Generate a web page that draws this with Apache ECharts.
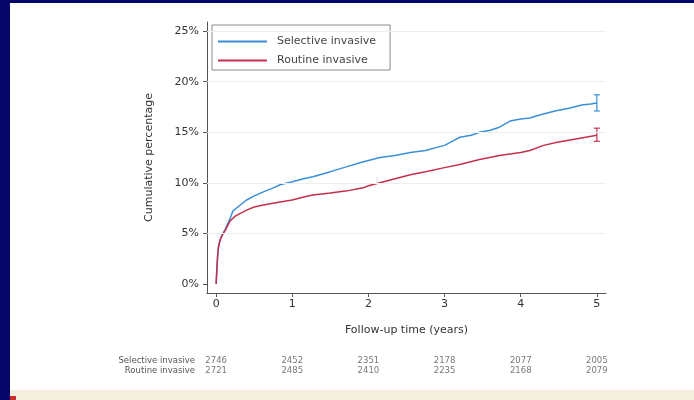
<!DOCTYPE html>
<html>
<head>
<meta charset="utf-8">
<script src="https://cdn.jsdelivr.net/npm/echarts@6/dist/echarts.min.js"></script>
<style>
  html, body { margin: 0; padding: 0; background: #06066a; }
  #chart { width: 694px; height: 400px; }
</style>
</head>
<body>
<div id="chart"></div>
<script>
// Cumulative incidence by strategy (Kaplan-Meier style curves), follow-up in years
const groupNames = ['Selective invasive', 'Routine invasive'];

const selectiveTime = [0, 0.01, 0.02, 0.03, 0.05, 0.08, 0.12, 0.18, 0.22, 0.3, 0.4, 0.5, 0.62, 0.75, 0.84, 1.0, 1.15, 1.27, 1.5, 1.72, 1.9, 2.0, 2.15, 2.35, 2.55, 2.75, 2.9, 3.0, 3.1, 3.2, 3.35, 3.46, 3.6, 3.72, 3.86, 4.0, 4.12, 4.25, 4.45, 4.65, 4.8, 4.92, 5.0];
const selectivePct  = [0, 1.5, 2.8, 3.6, 4.3, 4.9, 5.4, 6.4, 7.2, 7.7, 8.3, 8.7, 9.1, 9.5, 9.8, 10.1, 10.4, 10.6, 11.1, 11.6, 12.0, 12.2, 12.5, 12.7, 13.0, 13.2, 13.5, 13.7, 14.1, 14.5, 14.7, 15.0, 15.2, 15.5, 16.1, 16.3, 16.4, 16.7, 17.1, 17.4, 17.7, 17.8, 17.9];

const routineTime = [0, 0.01, 0.02, 0.03, 0.05, 0.08, 0.12, 0.18, 0.25, 0.4, 0.5, 0.62, 0.84, 1.0, 1.15, 1.27, 1.5, 1.72, 1.93, 2.0, 2.15, 2.35, 2.55, 2.75, 3.0, 3.2, 3.46, 3.72, 4.0, 4.12, 4.3, 4.48, 4.78, 5.0];
const routinePct  = [0, 1.5, 2.8, 3.6, 4.3, 4.8, 5.3, 6.2, 6.7, 7.3, 7.6, 7.8, 8.1, 8.3, 8.6, 8.8, 9.0, 9.2, 9.5, 9.7, 10.0, 10.4, 10.8, 11.1, 11.5, 11.8, 12.3, 12.7, 13.0, 13.2, 13.7, 14.0, 14.4, 14.7];

// 95% confidence interval at 5 years: [time, lower, upper]
const selectiveCI = [5, 17.1, 18.7];
const routineCI   = [5, 14.1, 15.4];

// Tick positions
const yTicks = [0, 5, 10, 15, 20, 25];
const xTicks = [0, 1, 2, 3, 4, 5];

// Numbers at risk at each yearly tick
const riskTimes = [0, 1, 2, 3, 4, 5];
const selectiveAtRisk = [2746, 2452, 2351, 2178, 2077, 2005];
const routineAtRisk   = [2721, 2485, 2410, 2235, 2168, 2079];

const BLUE = '#3a8fd8';
const RED = '#c3304c';
const AXIS = '#555555';
const FONT = 'DejaVu Sans';

const zip = (a, b) => a.map((v, i) => [v, b[i]]);

function ciItem(params, api) {
  const x = api.value(0);
  const lo = api.coord([x, api.value(1)]);
  const hi = api.coord([x, api.value(2)]);
  const cap = 3;
  const style = { stroke: api.visual('color'), lineWidth: 1.2 };
  return {
    type: 'group',
    children: [
      { type: 'line', shape: { x1: lo[0], y1: lo[1], x2: hi[0], y2: hi[1] }, style },
      { type: 'line', shape: { x1: lo[0] - cap, y1: lo[1], x2: lo[0] + cap, y2: lo[1] }, style },
      { type: 'line', shape: { x1: hi[0] - cap, y1: hi[1], x2: hi[0] + cap, y2: hi[1] }, style }
    ]
  };
}

const X_MIN = -0.12, X_MAX = 5.12;
const Y_MIN = -0.9, Y_MAX = 25.9;

const chart = echarts.init(document.getElementById('chart'), null, { renderer: 'canvas' });

const riskLabel = { show: true, position: 'inside', formatter: p => p.value[2], fontSize: 8.5, color: '#555', fontFamily: FONT };

chart.setOption({
  backgroundColor: '#06066a',
  animation: false,
  textStyle: { fontFamily: FONT },
  graphic: [
    { type: 'rect', z: -10, shape: { x: 10, y: 3, width: 684, height: 388 }, style: { fill: '#ffffff' } },
    { type: 'rect', z: -10, shape: { x: 10, y: 390, width: 684, height: 10 }, style: { fill: '#f4eede' } },
    { type: 'rect', z: -9, shape: { x: 10, y: 396, width: 6, height: 4 }, style: { fill: '#c83030' } }
  ],
  legend: {
    left: 212, top: 25,
    orient: 'vertical',
    data: groupNames,
    icon: 'rect',
    itemWidth: 49, itemHeight: 2,
    itemGap: 8,
    padding: [11, 14, 4, 6],
    borderColor: '#8a8a8a', borderWidth: 1,
    backgroundColor: '#ffffff',
    textStyle: { fontSize: 11, color: '#444', fontFamily: FONT, padding: [0, 0, 0, 5] }
  },
  grid: [
    { left: 207, right: 88, top: 22, bottom: 107, containLabel: false },
    { left: 207, right: 88, top: 356, height: 20, containLabel: false }
  ],
  xAxis: [
    {
      gridIndex: 0, type: 'value', min: X_MIN, max: X_MAX,
      name: 'Follow-up time (years)', nameLocation: 'middle', nameGap: 32,
      nameTextStyle: { fontSize: 11, color: '#333', fontFamily: FONT },
      axisLine: { show: true, onZero: false, lineStyle: { color: AXIS, width: 1 } },
      axisTick: { show: true, length: 4, customValues: xTicks, lineStyle: { color: AXIS } },
      axisLabel: { customValues: xTicks, fontSize: 11, color: '#333', margin: 6, fontFamily: FONT },
      splitLine: { show: false }
    },
    {
      gridIndex: 1, type: 'value', min: X_MIN, max: X_MAX,
      show: false
    }
  ],
  yAxis: [
    {
      gridIndex: 0, type: 'value', min: Y_MIN, max: Y_MAX,
      name: 'Cumulative percentage', nameLocation: 'middle', nameGap: 52, nameRotate: 90,
      nameTextStyle: { fontSize: 11, color: '#333', fontFamily: FONT },
      axisLine: { show: true, onZero: false, lineStyle: { color: AXIS, width: 1 } },
      axisTick: { show: true, length: 4, customValues: yTicks, lineStyle: { color: AXIS } },
      axisLabel: { customValues: yTicks, formatter: v => v + '%', fontSize: 11, color: '#333', margin: 8, fontFamily: FONT },
      splitLine: { show: false }
    },
    {
      gridIndex: 1, type: 'category', inverse: true,
      data: groupNames,
      axisLine: { show: false }, axisTick: { show: false },
      axisLabel: { interval: 0, fontSize: 8.5, color: '#555', margin: 12, fontFamily: FONT }
    }
  ],
  series: [
    {
      name: groupNames[0], type: 'line', xAxisIndex: 0, yAxisIndex: 0,
      data: zip(selectiveTime, selectivePct),
      showSymbol: false, color: BLUE,
      lineStyle: { width: 1.5, color: BLUE }, z: 3,
      markLine: {
        silent: true, symbol: 'none', label: { show: false },
        lineStyle: { color: '#eeeeee', width: 1, type: 'solid' },
        data: yTicks.slice(1).map(v => ({ yAxis: v }))
      }
    },
    {
      name: groupNames[1], type: 'line', xAxisIndex: 0, yAxisIndex: 0,
      data: zip(routineTime, routinePct),
      showSymbol: false, color: RED,
      lineStyle: { width: 1.5, color: RED }, z: 3
    },
    {
      type: 'custom', xAxisIndex: 0, yAxisIndex: 0, color: BLUE,
      renderItem: ciItem, data: [selectiveCI], z: 4
    },
    {
      type: 'custom', xAxisIndex: 0, yAxisIndex: 0, color: RED,
      renderItem: ciItem, data: [routineCI], z: 4
    },
    {
      type: 'scatter', xAxisIndex: 1, yAxisIndex: 1, symbolSize: 0,
      data: riskTimes.map((t, i) => [t, groupNames[0], selectiveAtRisk[i]]),
      label: riskLabel
    },
    {
      type: 'scatter', xAxisIndex: 1, yAxisIndex: 1, symbolSize: 0,
      data: riskTimes.map((t, i) => [t, groupNames[1], routineAtRisk[i]]),
      label: riskLabel
    }
  ]
});
</script>
</body>
</html>
